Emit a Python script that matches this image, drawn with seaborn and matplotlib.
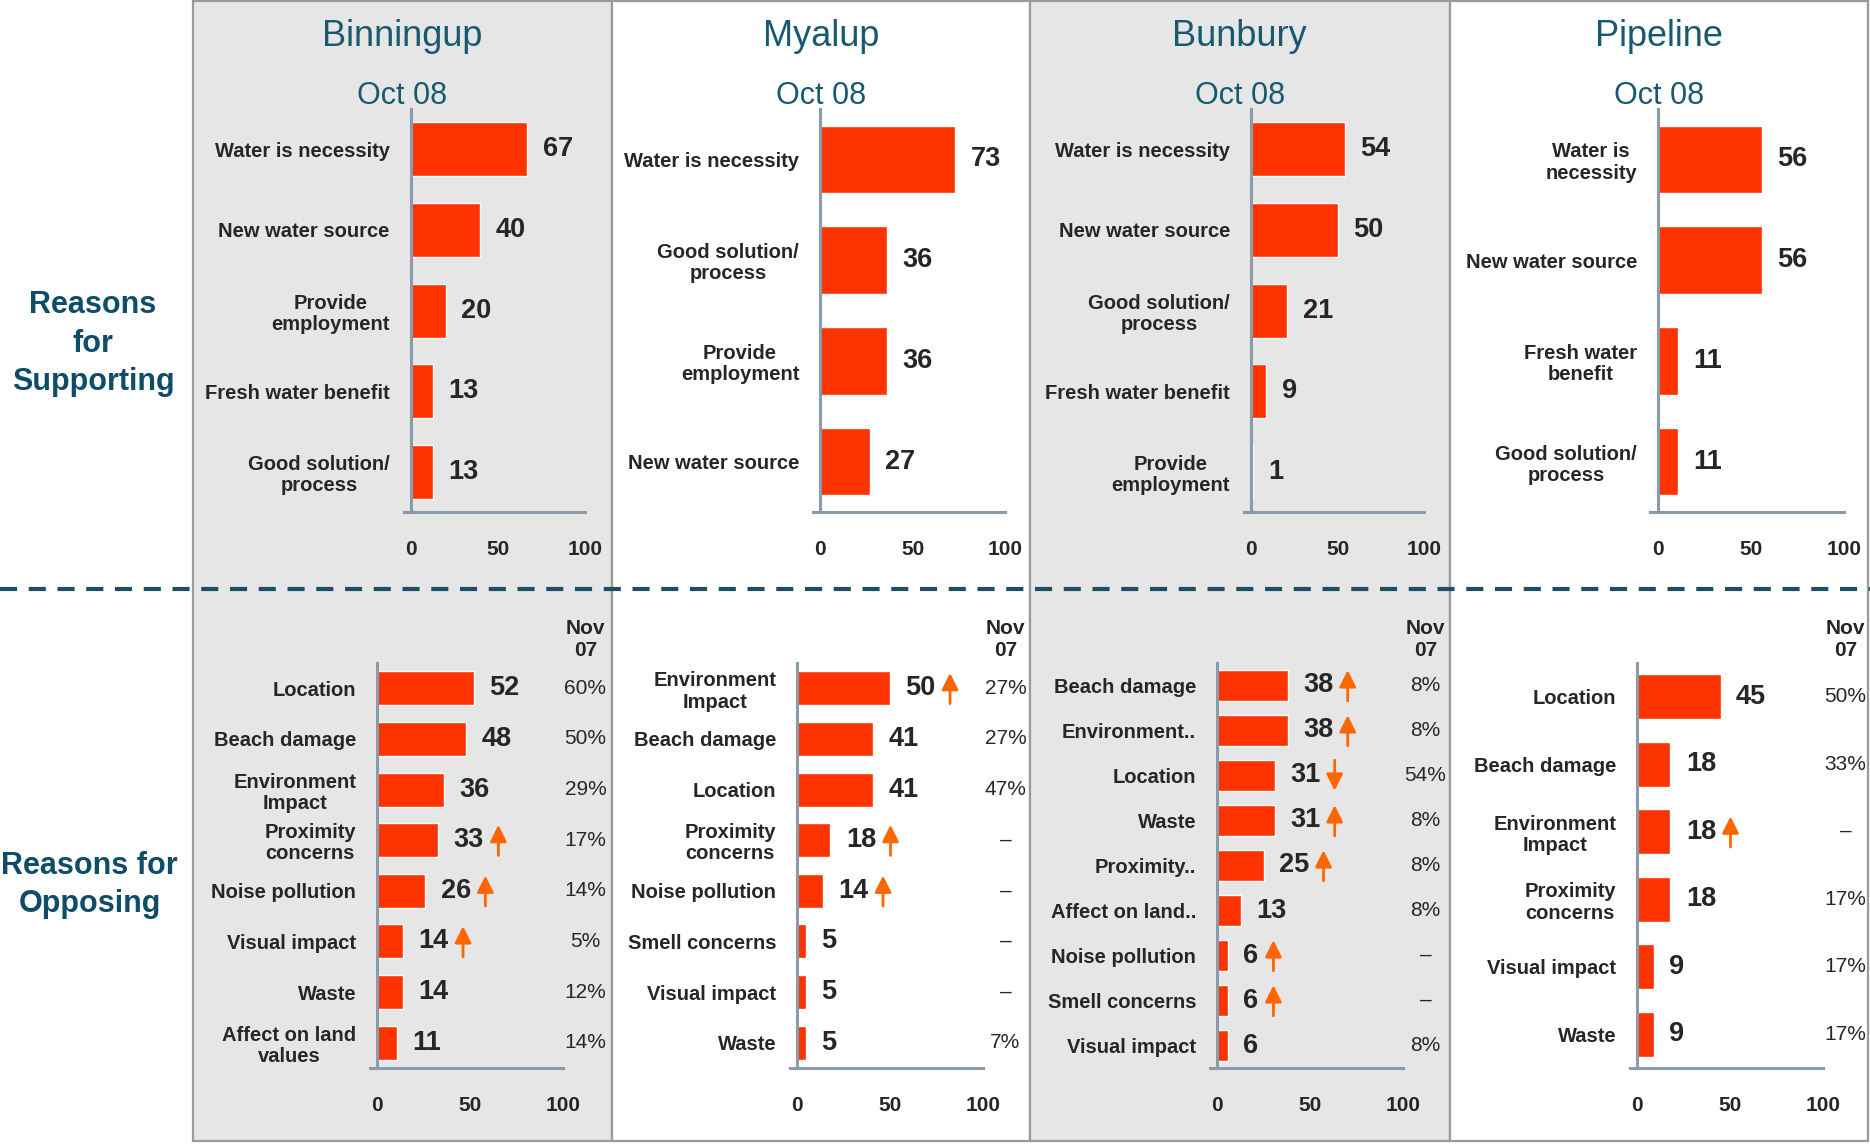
import matplotlib
matplotlib.use("Agg")
import matplotlib.pyplot as plt
import seaborn as sns
from matplotlib.patches import Rectangle
from matplotlib.lines import Line2D
from matplotlib.transforms import offset_copy

# ---- data ----
towns = ["Binningup", "Myalup", "Bunbury", "Pipeline"]

binningup_sup_labels = ["Water is necessity", "New water source", "Provide\nemployment",
                        "Fresh water benefit", "Good solution/\nprocess"]
binningup_sup_values = [67, 40, 20, 13, 13]
myalup_sup_labels = ["Water is necessity", "Good solution/\nprocess", "Provide\nemployment",
                     "New water source"]
myalup_sup_values = [73, 36, 36, 27]
bunbury_sup_labels = ["Water is necessity", "New water source", "Good solution/\nprocess",
                      "Fresh water benefit", "Provide\nemployment"]
bunbury_sup_values = [54, 50, 21, 9, 1]
pipeline_sup_labels = ["Water is\nnecessity", "New water source", "Fresh water\nbenefit",
                       "Good solution/\nprocess"]
pipeline_sup_values = [56, 56, 11, 11]

binningup_opp_labels = ["Location", "Beach damage", "Environment\nImpact", "Proximity\nconcerns",
                        "Noise pollution", "Visual impact", "Waste", "Affect on land\nvalues"]
binningup_opp_values = [52, 48, 36, 33, 26, 14, 14, 11]
binningup_opp_trend = ["", "", "", "up", "up", "up", "", ""]
binningup_nov07 = ["60%", "50%", "29%", "17%", "14%", "5%", "12%", "14%"]

myalup_opp_labels = ["Environment\nImpact", "Beach damage", "Location", "Proximity\nconcerns",
                     "Noise pollution", "Smell concerns", "Visual impact", "Waste"]
myalup_opp_values = [50, 41, 41, 18, 14, 5, 5, 5]
myalup_opp_trend = ["up", "", "", "up", "up", "", "", ""]
myalup_nov07 = ["27%", "27%", "47%", "–", "–", "–", "–", "7%"]

bunbury_opp_labels = ["Beach damage", "Environment..", "Location", "Waste", "Proximity..",
                      "Affect on land..", "Noise pollution", "Smell concerns", "Visual impact"]
bunbury_opp_values = [38, 38, 31, 31, 25, 13, 6, 6, 6]
bunbury_opp_trend = ["up", "up", "down", "up", "up", "", "up", "up", ""]
bunbury_nov07 = ["8%", "8%", "54%", "8%", "8%", "8%", "–", "–", "8%"]

pipeline_opp_labels = ["Location", "Beach damage", "Environment\nImpact", "Proximity\nconcerns",
                       "Visual impact", "Waste"]
pipeline_opp_values = [45, 18, 18, 18, 9, 9]
pipeline_opp_trend = ["", "", "up", "", "", ""]
pipeline_nov07 = ["50%", "33%", "–", "17%", "17%", "17%"]

support = [(binningup_sup_labels, binningup_sup_values),
           (myalup_sup_labels, myalup_sup_values),
           (bunbury_sup_labels, bunbury_sup_values),
           (pipeline_sup_labels, pipeline_sup_values)]
oppose = [(binningup_opp_labels, binningup_opp_values, binningup_opp_trend, binningup_nov07),
          (myalup_opp_labels, myalup_opp_values, myalup_opp_trend, myalup_nov07),
          (bunbury_opp_labels, bunbury_opp_values, bunbury_opp_trend, bunbury_nov07),
          (pipeline_opp_labels, pipeline_opp_values, pipeline_opp_trend, pipeline_nov07)]

# ---- style ----
sns.set_style("white")
plt.rcParams["font.family"] = ["Liberation Sans", "DejaVu Sans"]

BAR = "#ff3300"
ARROW = "#ff6600"
TEAL = "#175a70"
DARK_TEAL = "#0e4d68"
AXIS = "#8c9bab"

fig = plt.figure(figsize=(18.7, 11.44), dpi=100)

# panel backgrounds
panel_x = [0.1032, 0.3273, 0.5508, 0.7754, 0.9989]
panel_bg = ["#e6e6e6", "white", "#e6e6e6", "white"]
for k in range(4):
    fig.add_artist(Rectangle((panel_x[k], 0.0026), panel_x[k + 1] - panel_x[k], 0.9965,
                             transform=fig.transFigure, facecolor=panel_bg[k],
                             edgecolor="#9a9a9a", lw=1.6, zorder=-5))

fig.add_artist(Line2D([0, 1], [0.485, 0.485], transform=fig.transFigure, color="#1d4e63",
                      lw=3, linestyle=(0, (4.1, 2.8)), zorder=5))

panel_centers = [0.2152, 0.439, 0.663, 0.887]
for k, town in enumerate(towns):
    fig.text(panel_centers[k], 0.968, town, ha="center", va="center", fontsize=26, color=TEAL)
    fig.text(panel_centers[k], 0.916, "Oct 08", ha="center", va="center", fontsize=22, color=TEAL)

fig.text(0.0497, 0.6997, "Reasons\nfor\nSupporting", ha="center", va="center",
         fontsize=22, fontweight="bold", color=DARK_TEAL, linespacing=1.38)
fig.text(0.0479, 0.2263, "Reasons for\nOpposing", ha="center", va="center",
         fontsize=22, fontweight="bold", color=DARK_TEAL, linespacing=1.38)


def place(x0, w, y0, h):
    # x0 / w: figure position of value 0 and width of 0..100
    return fig.add_axes([x0 - w * 0.04, y0, w * 1.04, h])


def draw_bars(ax, labels, values, trend=None, nov=None):
    n = len(labels)
    sns.barplot(x=values, y=labels, orient="h", color=BAR, saturation=1, width=0.67, ax=ax)
    ax.set_facecolor("none")
    ax.set_xlim(-4, 100)
    ax.set_ylim(n - 0.5, -0.5)
    ax.set_xlabel("")
    ax.set_ylabel("")
    ax.spines[["top", "right"]].set_visible(False)
    ax.spines["left"].set_position(("data", 0))
    for s in ("left", "bottom"):
        ax.spines[s].set_color(AXIS)
        ax.spines[s].set_linewidth(2.2)
    ax.set_xticks([0, 50, 100])
    ax.set_xticklabels(["0", "50", "100"], fontsize=15, fontweight="bold")
    ax.tick_params(axis="x", length=0, pad=20)
    ax.set_yticks(range(n))
    ax.set_yticklabels(labels, fontsize=14.5, fontweight="bold", linespacing=1.15)
    for lbl in ax.get_yticklabels():
        lbl.set_multialignment("center")
    ax.tick_params(axis="y", which="major", length=0, pad=15)
    ax.set_yticks([i - 0.5 for i in range(n)], minor=True)
    ax.tick_params(axis="y", which="minor", length=5, width=2, color=AXIS, direction="out")

    for i, v in enumerate(values):
        ax.annotate(str(v), xy=(v, i), xytext=(11, 0), textcoords="offset points",
                    va="center", ha="left", fontsize=19.5, fontweight="bold")
        if trend and trend[i]:
            up = trend[i] == "up"
            dx = 22 + 10.6 * len(str(v))
            head = offset_copy(ax.transData, fig=fig, x=dx, y=11 if up else -11, units="points")
            ax.annotate("", xy=(v, i), xycoords=head, xytext=(0, -22 if up else 22),
                        textcoords="offset points",
                        arrowprops=dict(arrowstyle="-|>,head_length=0.5,head_width=0.25",
                                        color=ARROW, lw=2, mutation_scale=20,
                                        shrinkA=0, shrinkB=0))
    if nov:
        ax.annotate("Nov\n07", xy=(112, -0.5), xytext=(0, 2), textcoords="offset points",
                    ha="center", va="bottom", fontsize=15, fontweight="bold",
                    annotation_clip=False)
        for i, p in enumerate(nov):
            ax.text(112, i, p, ha="center", va="center", fontsize=15, clip_on=False)


top_x0 = [0.2196, 0.4385, 0.6689, 0.8866]
top_w = [0.0932, 0.0990, 0.0928, 0.0996]
bot_x0 = [0.2016, 0.4262, 0.6508, 0.8754]
bot_w = [0.0995, 0.0995, 0.0995, 0.0995]

for k in range(4):
    ax = place(top_x0[k], top_w[k], 0.5524, 0.3523)
    draw_bars(ax, support[k][0], support[k][1])

    ax = place(bot_x0[k], bot_w[k], 0.0664, 0.3541)
    labels, values, trend, nov = oppose[k]
    draw_bars(ax, labels, values, trend, nov)

fig.savefig("out.png", dpi=100)
